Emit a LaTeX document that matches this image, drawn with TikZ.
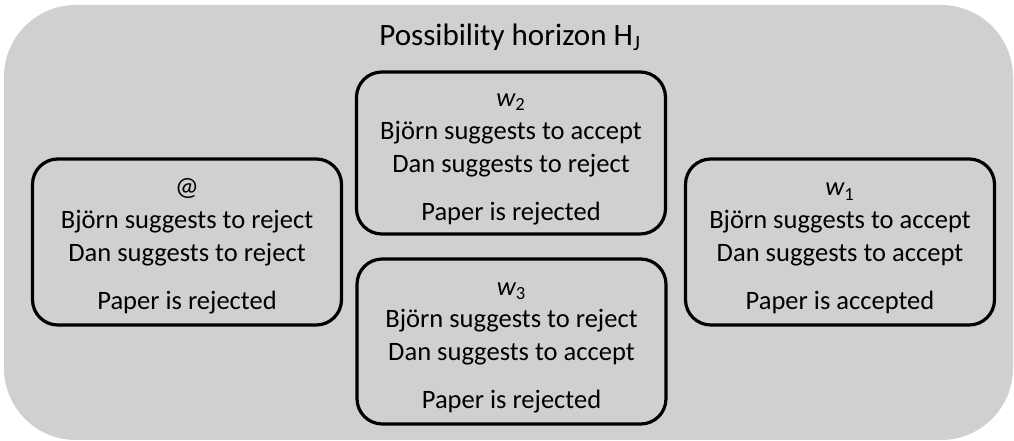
\documentclass[tikz,border=0pt]{standalone}
\usepackage{fontspec}
\setmainfont{Carlito}
\definecolor{horizongrey}{RGB}{208,208,208}
\newcommand{\topline}{\rule{0pt}{19pt}}

\begin{document}
\begin{tikzpicture}[x=0.75pt, y=-0.75pt,
  world/.style={draw, line width=2.4pt, rounded corners=19pt, align=center,
    minimum width=231.75pt, inner sep=0pt,
    font=\fontsize{19.9}{24.5}\selectfont},
  horizontitle/.style={anchor=base, inner sep=0pt, font=\fontsize{23.3}{28}\selectfont}]
\useasboundingbox (0,0) rectangle (1014,441);
% horizon:
\fill[horizongrey, rounded corners=54pt] (4,5) rectangle (1013,440);
\node[horizontitle] (title) at (510,46) {Possibility horizon H\textsubscript{J}};
% worlds:
\node[world, minimum height=124.5pt] (actual) at (187,242)
  {\topline @\\ Björn suggests to reject\\ Dan suggests to reject\\[11.5pt] Paper is rejected};
\node[world, minimum height=121.5pt] (wtwo) at (511,153)
  {\topline{\itshape w}\textsubscript{2}\\ Björn suggests to accept\\ Dan suggests to reject\\[11.5pt] Paper is rejected};
\node[world, minimum height=123.75pt] (wthree) at (511.5,341.5)
  {\topline{\itshape w}\textsubscript{3}\\ Björn suggests to reject\\ Dan suggests to accept\\[11.5pt] Paper is rejected};
\node[world, minimum height=124.5pt] (wone) at (840,242)
  {\topline{\itshape w}\textsubscript{1}\\ Björn suggests to accept\\ Dan suggests to accept\\[11.5pt] Paper is accepted};
\end{tikzpicture}
\end{document}
